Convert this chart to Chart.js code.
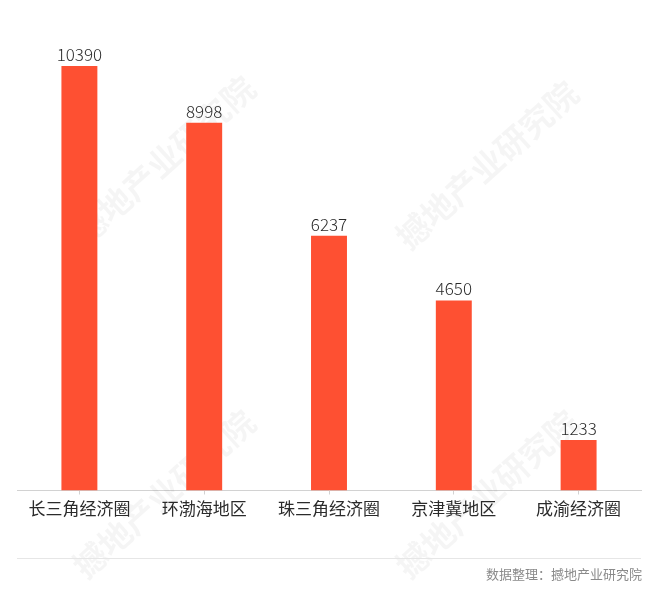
<!DOCTYPE html>
<html>
<head>
<meta charset="utf-8">
<script src="https://cdn.jsdelivr.net/npm/chart.js@4"></script>
<style>
  html, body { margin: 0; padding: 0; background: #fff; }
  #wrap { width: 660px; height: 607px; position: relative; }
</style>
</head>
<body>
<div id="wrap"><canvas id="barChart"></canvas></div>
<script>
'use strict';

let regions = ['长三角经济圈', '环渤海地区', '珠三角经济圈', '京津冀地区', '成渝经济圈'];
let values = [10390, 8998, 6237, 4650, 1233];
let sourceNote = '数据整理：撼地产业研究院';
let watermarkText = '撼地产业研究院';

let fontFamily = '"Noto Sans CJK SC", "Noto Sans", sans-serif';

// faint diagonal watermark behind the bars
let watermarkPlugin = {
  id: 'watermark',
  beforeDatasetsDraw(chart) {
    let ctx = chart.ctx;
    let spots = [[164, 160], [487, 165], [164, 494], [487, 494]];
    ctx.save();
    ctx.font = 'bold 33px ' + fontFamily;
    ctx.fillStyle = 'rgba(0,0,0,0.04)';
    ctx.textAlign = 'center';
    ctx.textBaseline = 'middle';
    for (let i = 0; i < spots.length; i++) {
      ctx.save();
      ctx.translate(spots[i][0], spots[i][1]);
      ctx.rotate(-42 * Math.PI / 180);
      ctx.fillText(watermarkText, 0, 0);
      ctx.restore();
    }
    ctx.restore();
  }
};

// numbers on top of the bars
let valueLabelPlugin = {
  id: 'valueLabels',
  afterDatasetsDraw(chart) {
    let ctx = chart.ctx;
    let meta = chart.getDatasetMeta(0);
    ctx.save();
    ctx.font = '300 17px ' + fontFamily;
    ctx.fillStyle = '#2b2b2b';
    ctx.textAlign = 'center';
    ctx.textBaseline = 'bottom';
    for (let i = 0; i < meta.data.length; i++) {
      let bar = meta.data[i];
      ctx.fillText(String(values[i]), bar.x, bar.y - 3);
    }
    ctx.restore();
  }
};

// separator line and source text at the bottom
let footerPlugin = {
  id: 'footer',
  afterDraw(chart) {
    let ctx = chart.ctx;
    let area = chart.chartArea;
    ctx.save();
    ctx.strokeStyle = '#e6e6e6';
    ctx.lineWidth = 1;
    ctx.beginPath();
    ctx.moveTo(area.left, 558.5);
    ctx.lineTo(area.right, 558.5);
    ctx.stroke();
    ctx.font = '13px ' + fontFamily;
    ctx.fillStyle = '#8a8a8a';
    ctx.textAlign = 'right';
    ctx.textBaseline = 'middle';
    ctx.fillText(sourceNote, area.right + 1, 574);
    ctx.restore();
  }
};

let ctx = document.getElementById('barChart').getContext('2d');
// eslint-disable-next-line no-unused-vars
let barChart = new Chart(ctx, {
  type: 'bar',
  data: {
    labels: regions,
    datasets: [{
      data: values,
      backgroundColor: '#fe5032',
      borderWidth: 0,
      categoryPercentage: 1,
      barPercentage: 0.288
    }]
  },
  options: {
    responsive: true,
    maintainAspectRatio: false,
    animation: false,
    layout: {
      padding: { top: 41, left: 17, right: 19, bottom: 0 }
    },
    plugins: {
      legend: { display: false },
      tooltip: { enabled: false }
    },
    scales: {
      x: {
        afterFit(axis) {
          axis.height = 116.5;
        },
        border: { color: '#d2d2d2', width: 1 },
        grid: {
          display: true,
          offset: false,
          drawOnChartArea: false,
          color: '#d2d2d2',
          tickLength: 4
        },
        ticks: {
          color: '#2b2b2b',
          padding: 4,
          font: { family: fontFamily, size: 17 }
        }
      },
      y: {
        display: false,
        min: 0,
        max: 11000
      }
    }
  },
  plugins: [watermarkPlugin, valueLabelPlugin, footerPlugin]
});
</script>
</body>
</html>
